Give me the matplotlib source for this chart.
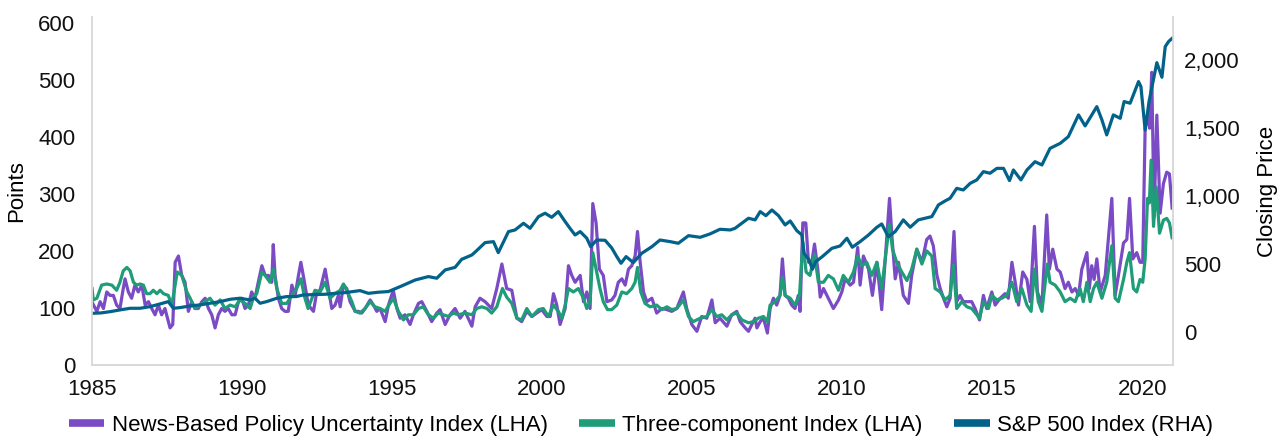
import matplotlib
matplotlib.use("Agg")
import matplotlib.pyplot as plt
from matplotlib.lines import Line2D

plt.rcParams['font.family'] = ['Liberation Sans', 'DejaVu Sans']

# News-Based Policy Uncertainty Index (LHA)
news_t = [1985.0, 1985.16, 1985.27, 1985.38, 1985.49, 1985.6, 1985.71, 1985.82, 1985.93,
          1986.04, 1986.1, 1986.21, 1986.32, 1986.43, 1986.54, 1986.66, 1986.77, 1986.88, 1986.99,
          1987.1, 1987.21, 1987.32, 1987.43, 1987.6, 1987.69, 1987.77, 1987.88, 1987.99,
          1988.1, 1988.21, 1988.32, 1988.43, 1988.54, 1988.66, 1988.77, 1988.88, 1988.99,
          1989.1, 1989.21, 1989.32, 1989.43, 1989.54, 1989.66, 1989.77, 1989.88, 1989.99,
          1990.1, 1990.21, 1990.32, 1990.43, 1990.54, 1990.66, 1990.77, 1990.88, 1990.99,
          1991.04, 1991.1, 1991.21, 1991.32, 1991.43, 1991.54, 1991.66, 1991.77, 1991.88, 1991.96,
          1992.04, 1992.21, 1992.38, 1992.49, 1992.6, 1992.77, 1992.88, 1992.99,
          1993.1, 1993.21, 1993.27, 1993.38, 1993.49, 1993.6, 1993.77, 1993.88, 1993.99,
          1994.1, 1994.27, 1994.38, 1994.49, 1994.6, 1994.77, 1994.88,
          1995.04, 1995.16, 1995.27, 1995.43, 1995.6, 1995.71, 1995.88, 1995.99,
          1996.16, 1996.32, 1996.49, 1996.6, 1996.77, 1996.93,
          1997.1, 1997.27, 1997.43, 1997.66, 1997.77, 1997.93,
          1998.1, 1998.32, 1998.49, 1998.66, 1998.82, 1998.99,
          1999.16, 1999.32, 1999.49, 1999.66, 1999.82, 1999.99,
          2000.16, 2000.27, 2000.38, 2000.49, 2000.6, 2000.77, 2000.88, 2000.99,
          2001.1, 2001.27, 2001.38, 2001.49, 2001.6, 2001.69, 2001.8, 2001.91,
          2002.04, 2002.16, 2002.32, 2002.43, 2002.54, 2002.66, 2002.77, 2002.88, 2002.99,
          2003.1, 2003.18, 2003.27, 2003.38, 2003.49, 2003.66, 2003.82, 2003.99,
          2004.16, 2004.32, 2004.49, 2004.71, 2004.82, 2004.99,
          2005.16, 2005.32, 2005.49, 2005.66, 2005.77, 2005.93,
          2006.16, 2006.32, 2006.49, 2006.6, 2006.77, 2006.88, 2006.99,
          2007.1, 2007.16, 2007.27, 2007.38, 2007.51, 2007.6, 2007.71, 2007.82, 2007.93,
          2008.01, 2008.1, 2008.21, 2008.32, 2008.43, 2008.54, 2008.6, 2008.69, 2008.79, 2008.88, 2008.99,
          2009.08, 2009.19, 2009.27, 2009.38, 2009.54, 2009.71, 2009.88, 2009.99,
          2010.1, 2010.27, 2010.38, 2010.52, 2010.6, 2010.71, 2010.88,
          2011.01, 2011.16, 2011.32, 2011.49, 2011.58, 2011.66, 2011.77, 2011.88,
          2012.04, 2012.21, 2012.32, 2012.49, 2012.66, 2012.82, 2012.93,
          2013.04, 2013.16, 2013.27, 2013.38, 2013.49, 2013.6, 2013.73, 2013.82, 2013.93,
          2014.04, 2014.16, 2014.32, 2014.43, 2014.58, 2014.71, 2014.82, 2014.99,
          2015.1, 2015.27, 2015.43, 2015.54, 2015.66, 2015.77, 2015.88,
          2016.02, 2016.16, 2016.27, 2016.41, 2016.51, 2016.66, 2016.82, 2016.91,
          2017.02, 2017.16, 2017.27, 2017.43, 2017.54, 2017.66, 2017.77, 2017.88, 2017.99,
          2018.16, 2018.24, 2018.32, 2018.4, 2018.49, 2018.6, 2018.77, 2018.99,
          2019.1, 2019.21, 2019.38, 2019.49, 2019.58, 2019.69, 2019.82, 2019.93,
          2020.02, 2020.1, 2020.19, 2020.25, 2020.32, 2020.4, 2020.49, 2020.6, 2020.71, 2020.82, 2020.91, 2021.0]
news_v = [110, 94, 111, 99, 128, 122, 122, 105, 99,
          134, 151, 128, 117, 140, 128, 140, 105, 111, 99,
          88, 105, 88, 99, 65, 71, 180, 191, 157,
          145, 94, 111, 99, 99, 111, 117, 99, 88,
          65, 88, 99, 94, 99, 88, 88, 111, 117,
          99, 105, 128, 117, 145, 174, 157, 157, 145,
          211, 157, 117, 99, 94, 94, 140, 122, 157, 180,
          157, 105, 94, 128, 131, 168, 134, 99,
          105, 122, 102, 140, 134, 111, 94, 94, 91,
          99, 114, 105, 94, 99, 76, 105,
          131, 99, 82, 88, 71, 88, 108, 111,
          94, 76, 91, 97, 71, 88,
          99, 82, 94, 68, 102, 117,
          111, 99, 134, 177, 134, 131,
          82, 76, 94, 85, 91, 97,
          85, 85, 125, 105, 71, 99, 174, 157,
          145, 157, 111, 128, 99, 283, 249, 168,
          157, 111, 114, 122, 145, 151, 140, 168, 174,
          191, 234, 180, 128, 111, 117, 91, 99,
          97, 94, 99, 128, 99, 71,
          59, 85, 82, 114, 74, 82,
          68, 88, 94, 76, 65, 59, 71,
          82, 65, 76, 82, 56, 99, 117, 105, 122,
          186, 122, 117, 105, 99, 122, 94, 249, 249, 180, 180,
          212, 168, 119, 134, 117, 99, 114, 128,
          151, 140, 145, 206, 140, 191, 168,
          122, 180, 97, 226, 292, 226, 151, 180,
          122, 108, 157, 203, 180, 220, 226,
          209, 157, 134, 117, 102, 117, 234, 111, 122,
          111, 111, 111, 99, 79, 122, 99, 128,
          105, 117, 125, 117, 180, 145, 105,
          163, 150, 111, 243, 128, 105, 263, 168,
          203, 168, 163, 134, 145, 128, 134, 122, 168,
          197, 134, 174, 150, 186, 128, 157, 292,
          122, 157, 214, 220, 292, 186, 197, 180,
          180, 415, 438, 415, 513, 260, 438, 266, 318, 338, 335, 275]

# Three-component Index (LHA)
three_t = [1985.0, 1985.04, 1985.16, 1985.32, 1985.49, 1985.66, 1985.82, 1985.93,
           1986.04, 1986.16, 1986.27, 1986.38, 1986.49, 1986.6, 1986.71, 1986.82, 1986.93,
           1987.04, 1987.16, 1987.27, 1987.38, 1987.54, 1987.66, 1987.77, 1987.84, 1987.99,
           1988.16, 1988.27, 1988.43, 1988.6, 1988.77, 1988.93,
           1989.1, 1989.27, 1989.43, 1989.6, 1989.77, 1989.93,
           1990.1, 1990.27, 1990.38, 1990.49, 1990.66, 1990.77, 1990.93,
           1991.04, 1991.16, 1991.32, 1991.49, 1991.66, 1991.82, 1991.96,
           1992.08, 1992.2, 1992.43, 1992.6, 1992.77, 1992.93,
           1993.1, 1993.27, 1993.38, 1993.49, 1993.66, 1993.77, 1993.93,
           1994.1, 1994.27, 1994.43, 1994.6, 1994.77, 1994.93,
           1995.04, 1995.21, 1995.38, 1995.54, 1995.71, 1995.88,
           1996.04, 1996.21, 1996.38, 1996.54, 1996.71, 1996.88,
           1997.04, 1997.21, 1997.43, 1997.66, 1997.82, 1997.99,
           1998.16, 1998.32, 1998.49, 1998.68, 1998.82, 1998.99,
           1999.16, 1999.32, 1999.49, 1999.66, 1999.88,
           2000.04, 2000.21, 2000.38, 2000.54, 2000.66, 2000.77, 2000.88,
           2001.04, 2001.21, 2001.38, 2001.49, 2001.6, 2001.69, 2001.8, 2001.93,
           2002.04, 2002.18, 2002.32, 2002.49, 2002.66, 2002.82, 2002.99,
           2003.1, 2003.18, 2003.29, 2003.43, 2003.6, 2003.82, 2003.99,
           2004.16, 2004.32, 2004.49, 2004.71, 2004.88,
           2005.04, 2005.27, 2005.49, 2005.66, 2005.82, 2005.99,
           2006.16, 2006.32, 2006.49, 2006.66, 2006.88,
           2007.04, 2007.21, 2007.38, 2007.51, 2007.6, 2007.77, 2007.93,
           2008.01, 2008.1, 2008.27, 2008.43, 2008.58, 2008.69, 2008.8, 2008.93,
           2009.08, 2009.21, 2009.38, 2009.54, 2009.71, 2009.88,
           2010.04, 2010.21, 2010.38, 2010.52, 2010.66, 2010.82, 2010.99,
           2011.16, 2011.32, 2011.49, 2011.58, 2011.68, 2011.82, 2011.99,
           2012.16, 2012.32, 2012.49, 2012.66, 2012.82, 2012.99,
           2013.1, 2013.27, 2013.43, 2013.6, 2013.71, 2013.82, 2013.99,
           2014.16, 2014.32, 2014.58, 2014.71, 2014.88, 2014.99,
           2015.16, 2015.32, 2015.49, 2015.66, 2015.82, 2015.99,
           2016.16, 2016.3, 2016.41, 2016.54, 2016.66, 2016.84, 2016.93,
           2017.1, 2017.27, 2017.43, 2017.6, 2017.77, 2017.93,
           2018.04, 2018.16, 2018.27, 2018.38, 2018.49, 2018.66, 2018.82, 2018.99,
           2019.1, 2019.21, 2019.38, 2019.49, 2019.58, 2019.71, 2019.82, 2019.93,
           2020.02, 2020.1, 2020.18, 2020.24, 2020.3, 2020.38, 2020.47, 2020.58, 2020.71, 2020.82, 2020.91, 2021.0]
three_v = [134, 114, 117, 140, 142, 140, 131, 145,
           165, 171, 165, 145, 140, 142, 140, 125, 125,
           131, 125, 131, 125, 122, 105, 140, 163, 157,
           128, 117, 99, 105, 111, 117,
           105, 114, 99, 105, 102, 114,
           108, 99, 119, 125, 163, 157, 145,
           168, 134, 108, 108, 122, 134, 151,
           120, 99, 131, 128, 145, 117,
           125, 131, 142, 131, 111, 94, 91,
           99, 111, 102, 99, 94, 108,
           117, 94, 79, 88, 88, 99,
           102, 88, 82, 91, 88, 85,
           91, 88, 91, 88, 99, 102,
           99, 91, 102, 134, 119, 108,
           82, 79, 99, 85, 97,
           99, 85, 105, 94, 82, 105, 134,
           128, 134, 117, 99, 111, 197, 168, 134,
           111, 97, 97, 105, 128, 125, 134,
           145, 171, 128, 108, 102, 105, 97,
           102, 97, 99, 114, 85,
           76, 82, 85, 97, 85, 88,
           79, 88, 91, 79, 74,
           76, 82, 85, 76, 105, 111, 122,
           154, 122, 117, 105, 122, 215, 163, 157,
           194, 145, 145, 157, 151, 131,
           157, 145, 163, 191, 174, 180, 157,
           180, 134, 209, 246, 203, 180, 163,
           148, 168, 203, 177, 200, 191,
           134, 128, 114, 122, 175, 99, 111,
           102, 99, 82, 111, 99, 122,
           114, 117, 122, 145, 111, 134,
           105, 94, 168, 111, 94, 177, 145,
           140, 128, 111, 117, 111, 134,
           111, 145, 111, 134, 145, 117, 145, 209,
           117, 111, 150, 180, 197, 134, 128, 150,
           145, 186, 292, 284, 359, 243, 312, 231, 254, 257, 249, 223]

# S&P 500 Index (RHA), closing price
sp_t = [1985.0, 1985.3, 1985.6, 1985.93, 1986.27, 1986.6, 1986.93, 1987.27, 1987.54, 1987.71, 1987.93,
        1988.27, 1988.6, 1988.93, 1989.27, 1989.6, 1989.93, 1990.27, 1990.43, 1990.6, 1990.82,
        1991.16, 1991.49, 1991.8, 1992.04, 1992.4, 1992.77, 1993.1, 1993.43, 1993.93,
        1994.21, 1994.54, 1994.88, 1995.32, 1995.77, 1996.21, 1996.49, 1996.77,
        1997.1, 1997.32, 1997.66, 1997.82, 1998.1, 1998.38, 1998.54, 1998.88,
        1999.1, 1999.38, 1999.6, 1999.88, 2000.1, 2000.32, 2000.54, 2000.77, 2000.93,
        2001.1, 2001.27, 2001.49, 2001.62, 2001.82, 2002.1, 2002.32, 2002.49, 2002.63, 2002.8,
        2003.04, 2003.32, 2003.66, 2003.93, 2004.27, 2004.54, 2004.88, 2005.27, 2005.6, 2005.93,
        2006.27, 2006.43, 2006.88, 2007.1, 2007.27, 2007.46, 2007.66, 2007.88,
        2008.1, 2008.27, 2008.49, 2008.66, 2008.73, 2008.9, 2009.01, 2009.12, 2009.34, 2009.66, 2009.93,
        2010.16, 2010.34, 2010.6, 2010.88, 2011.16, 2011.32, 2011.54, 2011.77,
        2012.04, 2012.27, 2012.54, 2012.77, 2012.99, 2013.21, 2013.43, 2013.6, 2013.82,
        2014.04, 2014.27, 2014.49, 2014.71, 2014.93, 2015.16, 2015.38, 2015.58, 2015.71, 2015.96,
        2016.16, 2016.43, 2016.66, 2016.93, 2017.27, 2017.54, 2017.88,
        2018.1, 2018.49, 2018.66, 2018.82, 2019.04, 2019.27, 2019.4, 2019.6, 2019.88, 2019.96,
        2020.1, 2020.23, 2020.49, 2020.66, 2020.77, 2020.88, 2021.0]
sp_v = [137, 140, 149, 162, 174, 174, 186, 206, 223, 174, 179,
        191, 199, 211, 223, 240, 248, 235, 248, 211, 223,
        248, 260, 260, 272, 275, 277, 284, 289, 304,
        284, 292, 297, 338, 382, 407, 395, 456,
        475, 534, 566, 598, 657, 664, 583, 738,
        750, 799, 762, 848, 873, 843, 885, 811, 762,
        713, 738, 689, 627, 676, 674, 618, 554, 505, 554,
        510, 578, 627, 676, 664, 652, 708, 696, 721, 755,
        750, 762, 836, 824, 885, 855, 897, 855,
        787, 816, 745, 713, 578, 529, 461, 517, 554, 615, 632,
        689, 623, 664, 713, 770, 794, 700, 738,
        824, 770, 824, 836, 848, 934, 963, 983, 1056,
        1044, 1093, 1118, 1179, 1167, 1203, 1203, 1113, 1191, 1118,
        1191, 1252, 1228, 1350, 1387, 1436, 1596,
        1515, 1657, 1559, 1449, 1596, 1571, 1694, 1682, 1841, 1804,
        1485, 1694, 1980, 1873, 2098, 2135, 2159]

year_ticks = [1985, 1990, 1995, 2000, 2005, 2010, 2015, 2020]

purple = '#7a4bc4'
green = '#1f9c78'
blue = '#03628a'
grid_grey = '#d9d9d9'

fig = plt.figure(figsize=(12.82, 4.38), dpi=100)
ax1 = fig.add_axes([0.0718, 0.1667, 0.8432, 0.7945])

ax1.plot(news_t, news_v, color=purple, lw=2.3, solid_joinstyle='round')
ax1.plot(three_t, three_v, color=green, lw=2.3, solid_joinstyle='round')
ax1.set_xlim(1985, 2021.03)
ax1.set_ylim(0, 610)
ax1.set_yticks([0, 100, 200, 300, 400, 500, 600])
ax1.set_xticks(year_ticks)
ax1.set_ylabel('Points', fontsize=16, labelpad=8)
ax1.tick_params(axis='both', length=0, labelsize=16, colors='#111111')
ax1.tick_params(axis='y', pad=12)
ax1.tick_params(axis='x', pad=10)

# Instantiate a second axes that shares the same x-axis
ax2 = ax1.twinx()
ax2.plot(sp_t, sp_v, color=blue, lw=2.3, solid_joinstyle='round')
ax2.set_ylim(-243, 2316)
ax2.set_yticks([0, 500, 1000, 1500, 2000])
ax2.set_yticklabels(['0', '500', '1,000', '1,500', '2,000'])
ax2.set_ylabel('Closing Price', fontsize=16, labelpad=12)
ax2.tick_params(axis='y', length=0, labelsize=16, pad=8, colors='#111111')

for ax in (ax1, ax2):
    ax.spines['top'].set_visible(False)
    for side in ('left', 'right', 'bottom'):
        ax.spines[side].set_color(grid_grey)
        ax.spines[side].set_linewidth(1.2)

handles = [Line2D([0], [0], color=purple, lw=5.5, solid_capstyle='butt'),
           Line2D([0], [0], color=green, lw=5.5, solid_capstyle='butt'),
           Line2D([0], [0], color=blue, lw=5.5, solid_capstyle='butt')]
labels = ['News-Based Policy Uncertainty Index (LHA)',
          'Three-component Index (LHA)',
          'S&P 500 Index (RHA)']
fig.legend(handles, labels, loc='lower center', bbox_to_anchor=(0.5, -0.016), ncol=3,
           frameon=False, fontsize=16, handlelength=1.6, handletextpad=0.35,
           columnspacing=1.4, borderaxespad=0)

fig.savefig('out.png', dpi=100)
